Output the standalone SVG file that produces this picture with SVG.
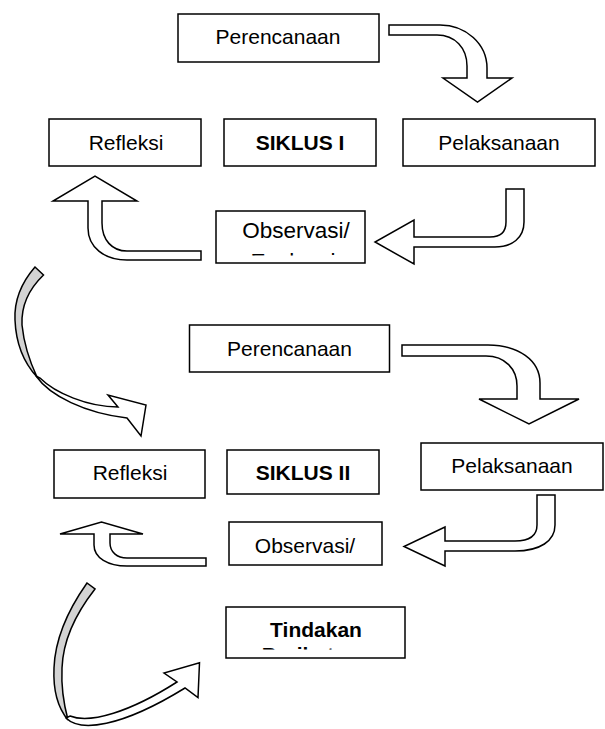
<svg xmlns="http://www.w3.org/2000/svg" width="605" height="729" viewBox="0 0 605 729">
<style>
.box{fill:#fff;stroke:#000;stroke-width:1.5}
.t{font-family:"Liberation Sans",Arial,sans-serif;font-size:21px;fill:#000;text-anchor:middle}
.b{font-weight:bold}
.lg{font-size:22.5px}
.arr{fill:#fff;stroke:#000;stroke-width:1.5;stroke-linejoin:miter}
.g{fill:#d3d3d3;stroke:#000;stroke-width:1.5}
</style>
<defs>
<clipPath id="c1"><rect x="216" y="211" width="149" height="44.5"/></clipPath>
<clipPath id="c2"><rect x="226" y="607" width="179" height="42.5"/></clipPath>
</defs>
<rect width="605" height="729" fill="#fff"/>
<g id="connectors">
<path class="arr" d="M389,25 L440,25 C466,25 487,44 487,68 L487,78 L512,78 L477.5,102 L443,78 L467,78 L467,66 C467,48 455,35 437,35 L389,35 Z"/>
<path class="arr" d="M506,189 L524,189 L524,222 C524,238 512,247 495,247 L414,247 L414,264 L375,242 L414,220 L414,237 L490,237 C500,237 506,232 506,222 Z"/>
<path class="arr" d="M201,251 L127,251 C112,251 102,240 102,223 L102,201 L137,201 L95,176 L53,201 L88,201 L88,228 C88,247 104,260 127,260 L201,260 Z"/>
<path class="g" d="M35,267 C22,282 14,300 15,320 C16,345 25,364 37,377 C30,362 24,345 22,325 C21,305 30,288 43.5,275 Z"/>
<path class="arr" d="M36,376 C50,396 85,413 127,418 L141,436 L146,405 L108,395 L118,407 C88,407 55,393 40,378 Z"/>
<path class="arr" d="M402,345 L488,345 C518,345 540,360 540,383 L540,399 L579,399 L529,424 L479,399 L517,399 L517,386 C517,369 505,356 486,356 L402,356 Z"/>
<path class="arr" d="M537,495 L555,495 L555,525 C555,541 540,551 515,551 L445,551 L445,566 L404,546.5 L445,527 L445,541 L515,541 C530,541 537,535 537,525 Z"/>
<path class="arr" d="M206,558 L127,558 C117,558 110,552 110,543 L110,534 L143,534 L101.5,522 L60,534 L94,534 L94,545 C94,558 108,566 127,566 L206,566 Z"/>
<path class="g" d="M87,583 C68,610 55,640 54,668 C53,690 58,708 68,720 C64,705 61,688 62,668 C63,640 77,612 95,589 Z"/>
<path class="arr" d="M66,718 C80,732 120,728 185,688 L198,697.5 L199.5,662.7 L164,673 L177,682 C130,712 90,724 70,716 Z"/>
</g>
<g id="perencanaan1"><rect class="box" x="178" y="14" width="201" height="48"/><text class="t" x="278" y="44">Perencanaan</text></g>
<g id="refleksi1"><rect class="box" x="49" y="119" width="152" height="47"/><text class="t" x="126" y="150">Refleksi</text></g>
<g id="siklus1"><rect class="box" x="224" y="119" width="152" height="47"/><text class="t b" x="300" y="150">SIKLUS I</text></g>
<g id="pelaksanaan1"><rect class="box" x="403" y="119" width="192" height="47"/><text class="t" x="499" y="150">Pelaksanaan</text></g>
<g id="observasi1"><rect class="box" x="216" y="211" width="149" height="52"/><text class="t lg" x="296" y="238">Observasi/</text><text class="t lg" x="293" y="268.5" clip-path="url(#c1)">Evaluasi</text></g>
<g id="perencanaan2"><rect class="box" x="189.5" y="325" width="200" height="47"/><text class="t" x="289.5" y="356">Perencanaan</text></g>
<g id="refleksi2"><rect class="box" x="54" y="450" width="151" height="48"/><text class="t" x="130" y="480">Refleksi</text></g>
<g id="siklus2"><rect class="box" x="227" y="450" width="152" height="44"/><text class="t b" x="303" y="480">SIKLUS II</text></g>
<g id="pelaksanaan2"><rect class="box" x="421" y="443" width="182" height="47"/><text class="t" x="512" y="473">Pelaksanaan</text></g>
<g id="observasi2"><rect class="box" x="229" y="522" width="153" height="43"/><text class="t" x="305" y="553">Observasi/</text></g>
<g id="tindakan"><rect class="box" x="226" y="607" width="179" height="51"/><text class="t b" x="316" y="637">Tindakan</text><text class="t b" x="316" y="661.5" clip-path="url(#c2)">Berikutnya</text></g>
</svg>
